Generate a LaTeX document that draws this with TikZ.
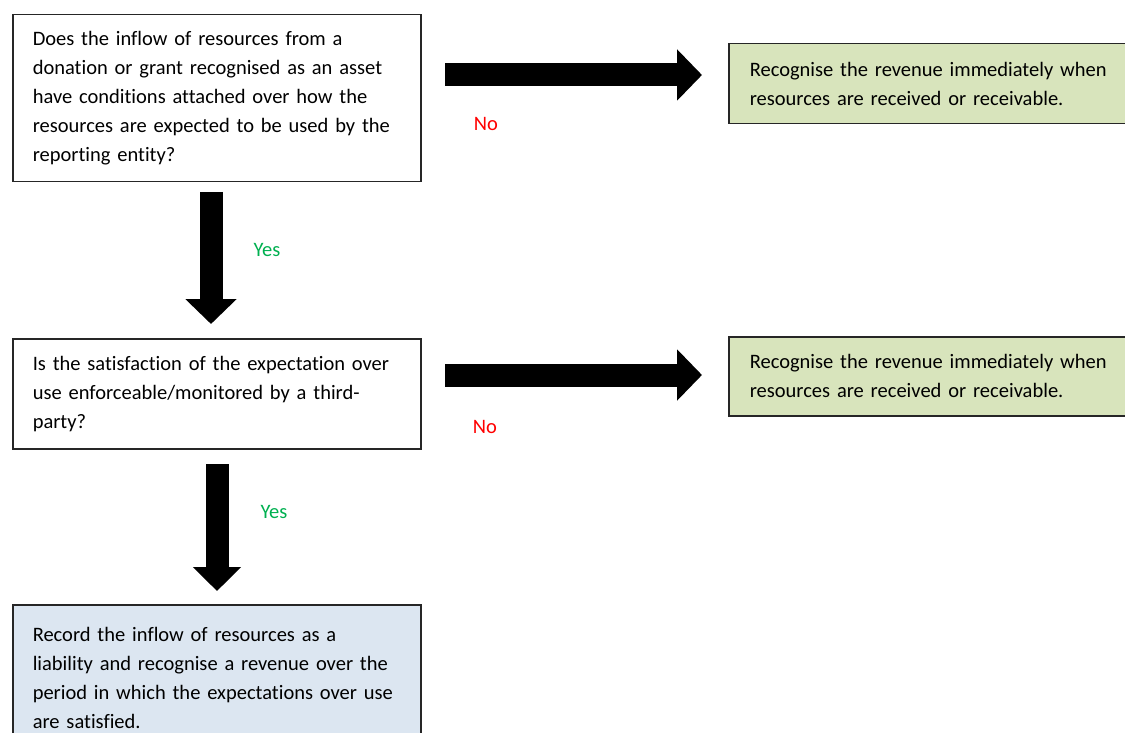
\documentclass[tikz,border=0pt]{standalone}
\usepackage{fontspec}
\setmainfont{Carlito}[Ligatures = NoCommon]
\usetikzlibrary{arrows.meta}
\usetikzlibrary{positioning}

\definecolor{decgreen}{HTML}{D8E4BC}
\definecolor{decblue}{HTML}{DCE6F1}
\definecolor{yesgreen}{HTML}{00B050}
\definecolor{nored}{HTML}{FF0000}

\begin{document}
\begin{tikzpicture}[
            x = 1pt, y = -1pt, % pixel grid, y downwards
            font = \fontsize{20.5}{29}\selectfont,
            box/.style = {draw = black!85, line width = 1.5pt, anchor = north west,
                inner xsep = 20pt, inner ysep = 0pt, text width = 368pt, align = left},
            outcome/.style = {box, fill = decgreen, text width = 380pt, inner xsep = 21pt},
            blockarrow/.style = {line width = 23pt, black,
                -{Triangle[width = 50pt, length = 25pt]}},
            answer/.style = {inner sep = 0pt}
        ]

        \useasboundingbox (0,0) rectangle (1125,733);

	% questions
        \node[box, minimum height = 167pt] (Q1) at (12,14)
            {Does the inflow of resources from a\\
             donation or grant recognised as an asset\\
             have conditions attached over how the\\
             resources are expected to be used by the\\
             reporting entity?};

        \node[box, minimum height = 110pt] (Q2) at (12,338)
            {Is the satisfaction of the expectation over\\
             use enforceable/monitored by a third-\\
             party?};

	% outcomes
        \node[outcome, minimum height = 80pt] (R1) at (728,43)
            {Recognise the revenue immediately when\\
             resources are received or receivable.};

        \node[outcome, minimum height = 79pt] (R2) at (728,336)
            {Recognise the revenue immediately when\\
             resources are received or receivable.};

        \node[box, fill = decblue, minimum height = 146pt] (L) at (12,604)
            {Record the inflow of resources as a\\
             liability and recognise a revenue over the\\
             period in which the expectations over use\\
             are satisfied.};

	% arrow ends
        \coordinate (N1s) at (445,75);
        \coordinate (N1e) at (702,75);
        \coordinate (Y1s) at (211,192);
        \coordinate (Y1e) at (211,324);
        \coordinate (N2s) at (445,375);
        \coordinate (N2e) at (702,375);
        \coordinate (Y2s) at (217,464);
        \coordinate (Y2e) at (217,591);

        \draw[blockarrow] (N1s) -- (N1e);
        \draw[blockarrow] (Y1s) -- (Y1e);
        \draw[blockarrow] (N2s) -- (N2e);
        \draw[blockarrow, -{Triangle[width = 47pt, length = 24pt]}] (Y2s) -- (Y2e);

	% answers
        \node[answer, text = nored] (No1) at (486,124) {No};
        \node[answer, text = yesgreen] (Yes1) at (267,250) {Yes};
        \node[answer, text = nored] (No2) at (485,427) {No};
        \node[answer, text = yesgreen] (Yes2) at (274,512) {Yes};

  \end{tikzpicture}
\end{document}
